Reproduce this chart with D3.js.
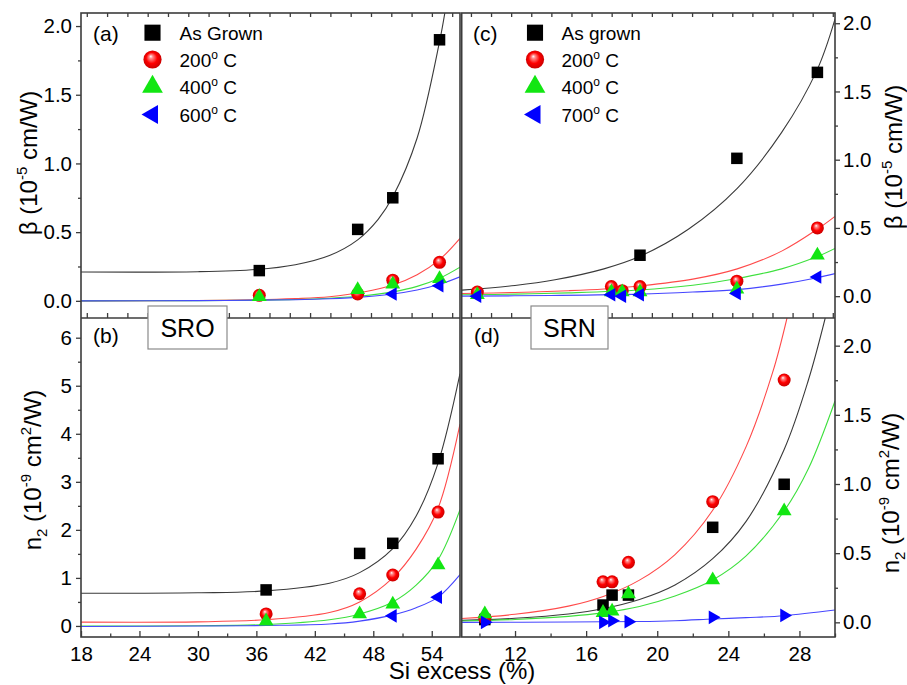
<!DOCTYPE html>
<html>
<head>
<meta charset="utf-8">
<script src="https://cdn.jsdelivr.net/npm/d3@7"></script>
<style>
body { margin: 0; background: #fff; }
text { font-family: "Liberation Sans", Arial, sans-serif; fill: #000; }
</style>
</head>
<body>
<svg id="chart" width="907" height="685"></svg>
<script>
// ---------------- data ----------------

// (a) SRO, beta (1e-5 cm/W)
var xA = [36.3, 46.4, 50.0, 54.8];
var aGrown = [0.22, 0.52, 0.75, 1.90];
var a200 = [0.04, 0.05, 0.15, 0.28];
var a400 = [0.03, 0.08, 0.12, 0.16];
var a600 = [null, null, 0.05, 0.11];

// (b) SRO, n2 (1e-9 cm2/W)
var xB = [37.0, 46.6, 50.0, 54.65];
var bGrown = [0.75, 1.51, 1.72, 3.48];
var b200 = [0.25, 0.67, 1.06, 2.37];
var b400 = [0.10, 0.25, 0.45, 1.27];
var b600 = [null, null, 0.21, 0.60];

// (c) SRN, beta
var xC = [9.88, 17.42, 18.03, 19.03, 24.48, 29.01];
var cGrown = [null, null, null, 0.30, 1.01, 1.64];
var c200 = [0.03, 0.07, 0.04, 0.07, 0.11, 0.50];
var c400 = [0.01, 0.03, 0.03, 0.03, 0.05, 0.30];
var c700 = [0.0, 0.01, 0.0, 0.01, 0.02, 0.14];

// (d) SRN, n2
var xD = [10.3, 16.95, 17.46, 18.38, 23.12, 27.14];
var dGrown = [0.02, 0.125, 0.197, 0.197, 0.687, 0.998];
var d200 = [0.03, 0.293, 0.293, 0.434, 0.872, 1.752];
var d400 = [0.06, 0.07, 0.08, 0.205, 0.306, 0.805];
var d700 = [0.0, 0.0, 0.012, 0.005, 0.036, 0.05];

// fitted curves, points: [x, y]
var fitA_grown = [[18,0.21],[30,0.212],[36,0.228],[40,0.263],[43.5,0.33],[46.4,0.444],[48.5,0.593],[50,0.757],[52.5,1.185],[54.8,1.886],[55.4,2.12]];
var fitA_200 = [[18,0],[30,0.002],[36,0.007],[40,0.016],[43.5,0.03],[47,0.064],[50,0.115],[52.5,0.19],[54.8,0.3],[56.9,0.455]];
var fitA_400 = [[18,0],[30,0.0014],[36,0.0044],[40,0.0095],[43.5,0.0186],[47,0.0365],[50,0.065],[52.5,0.105],[54.8,0.164],[56.9,0.245]];
var fitA_600 = [[18,0],[30,0.0013],[40,0.008],[43.5,0.0153],[47,0.029],[50,0.05],[52.5,0.079],[54.8,0.12],[56.9,0.175]];

var fitB_grown = [[18,0.68],[30,0.69],[37,0.73],[43.5,0.89],[46.6,1.11],[50,1.61],[52.4,2.29],[54.65,3.39],[56.9,5.25]];
var fitB_200 = [[18,0.08],[30,0.085],[37,0.13],[43.5,0.28],[46.6,0.5],[50,1.0],[52.4,1.6],[54.65,2.45],[56.9,4.2]];
var fitB_400 = [[18,0.0],[30,0.005],[37,0.03],[43.5,0.13],[46.6,0.25],[50,0.5],[52.4,0.85],[54.65,1.38],[56.9,2.42]];
var fitB_600 = [[18,-0.01],[30,0.0],[37,0.01],[43.5,0.04],[46.6,0.1],[50,0.23],[52.4,0.38],[54.65,0.6],[56.9,1.07]];

var fitC_grown = [[9,0.044],[12,0.078],[14.25,0.12],[17,0.2],[19,0.29],[21.75,0.49],[24.5,0.79],[27,1.2],[29,1.66],[30,2.03]];
var fitC_200 = [[9,0.02],[12,0.027],[15,0.04],[17,0.053],[19,0.075],[22,0.125],[24.5,0.2],[27,0.33],[29,0.49],[30,0.585]];
var fitC_400 = [[9,0.01],[12,0.015],[15,0.024],[19,0.045],[22,0.08],[24.5,0.13],[27,0.2],[29,0.29],[30,0.35]];
var fitC_700 = [[9,0.0],[14,0.005],[19,0.015],[22,0.03],[24.5,0.048],[27,0.088],[29,0.135],[30,0.165]];

var fitD_grown = [[9,0.014],[12,0.029],[15,0.06],[17,0.1],[19,0.165],[21,0.27],[23.12,0.46],[25,0.73],[27.14,1.25],[28.5,1.75],[29.45,2.2]];
var fitD_200 = [[9,0.028],[12,0.058],[15,0.117],[17,0.189],[19,0.305],[21,0.49],[23.12,0.81],[25,1.27],[26.5,1.81],[27.3,2.2]];
var fitD_400 = [[9,0.01],[12,0.021],[15,0.043],[17,0.07],[19,0.115],[21,0.19],[23.12,0.306],[25,0.48],[27.14,0.805],[28.5,1.11],[30,1.6]];
var fitD_700 = [[9,0.0],[15,0.002],[19,0.006],[21,0.012],[23.12,0.024],[25,0.034],[27.14,0.048],[30,0.089]];

// legends
var legendSRO = ["As Grown", "200", "400", "600"];
var legendSRN = ["As grown", "200", "400", "700"];

// ticks
var betaTicks = [0, 0.5, 1.0, 1.5, 2.0];
var betaMinor = [0.25, 0.75, 1.25, 1.75];
var n2SroTicks = [0, 1, 2, 3, 4, 5, 6];
var n2SroMinor = [0.5, 1.5, 2.5, 3.5, 4.5, 5.5];
var n2SrnTicks = [0, 0.5, 1.0, 1.5, 2.0];
var n2SrnMinor = [0.25, 0.75, 1.25, 1.75];
var sroXTicks = [18, 24, 30, 36, 42, 48, 54];
var sroXMinor = [21, 27, 33, 39, 45, 51];
var srnXTicks = [12, 16, 20, 24, 28];
var srnXMinor = [10, 14, 18, 22, 26, 30];

// ---------------- drawing ----------------
var svg = d3.select("#chart");
var frameColor = "#3c3c3c";
var lineColors = ["#3a3a3a", "#ff4a4a", "#3ee03e", "#4646ff"];
var green = "#12e612", blue = "#0000ff";

var defs = svg.append("defs");
var grad = defs.append("radialGradient").attr("id", "sphere")
  .attr("cx", "50%").attr("cy", "50%").attr("r", "55%")
  .attr("fx", "40%").attr("fy", "32%");
grad.append("stop").attr("offset", "0%").attr("stop-color", "#ffffff");
grad.append("stop").attr("offset", "18%").attr("stop-color", "#ff8c8c");
grad.append("stop").attr("offset", "55%").attr("stop-color", "#ff0000");
grad.append("stop").attr("offset", "100%").attr("stop-color", "#c00000");

var L = 81, M = 460, M2 = 461.7, R = 835, T = 13, MID = 318, B = 637;

var xSRO = d3.scaleLinear().domain([18, 56.9]).range([L, M]);
var xSRN = d3.scaleLinear().domain([9, 30]).range([M2, R]);
var yA = d3.scaleLinear().domain([-0.125, 2.095]).range([MID, T]);
var yB = d3.scaleLinear().domain([-0.23, 6.41]).range([B, MID]);
var yC = d3.scaleLinear().domain([-0.16, 2.075]).range([MID, T]);
var yD = d3.scaleLinear().domain([-0.106, 2.2]).range([B, MID]);
// unlabeled tick scales of the upper frames
var xTopSRO = d3.scaleLinear().domain([-0.285, 18.385]).range([L, M]);
var xTopSRN = d3.scaleLinear().domain([-0.46, 18.11]).range([M2, R]);

function drawMarker(g, kind, cx, cy, big) {
  var k = big ? 1.4 : 1;
  if (kind === "square") {
    var s = 11.5 * k;
    g.append("rect").attr("x", cx - s / 2).attr("y", cy - s / 2)
      .attr("width", s).attr("height", s).attr("fill", "#000");
  } else if (kind === "sphere") {
    g.append("circle").attr("cx", cx).attr("cy", cy).attr("r", 6.5 * k)
      .attr("fill", "url(#sphere)");
  } else {
    var rot = kind === "up" ? 0 : (kind === "left" ? -90 : 90);
    var size = kind === "up" ? 95 : 80;
    g.append("path")
      .attr("d", d3.symbol().type(d3.symbolTriangle).size(size * k * k)())
      .attr("transform", "translate(" + cx + "," + cy + ") rotate(" + rot + ")")
      .attr("fill", kind === "up" ? green : blue);
  }
}

function drawPanel(p) {
  var g = svg.append("g");
  var x0 = p.x.range()[0], x1 = p.x.range()[1];
  var y0 = p.y.range()[1], y1 = p.y.range()[0];
  defs.append("clipPath").attr("id", p.id)
    .append("rect").attr("x", x0).attr("y", y0).attr("width", x1 - x0).attr("height", y1 - y0);
  var plot = g.append("g").attr("clip-path", "url(#" + p.id + ")");

  var line = d3.line().x(function(d) { return p.x(d[0]); })
    .y(function(d) { return p.y(d[1]); })
    .curve(d3.curveCatmullRom.alpha(0.5));
  p.fits.forEach(function(f, i) {
    plot.append("path").attr("d", line(f)).attr("fill", "none")
      .attr("stroke", lineColors[i]).attr("stroke-width", 1.1);
  });

  var kinds = ["square", "sphere", "up", p.lastKind];
  p.series.forEach(function(s, i) {
    s.forEach(function(v, j) {
      if (v === null) return;
      drawMarker(plot, kinds[i], p.x(p.xs[j]), p.y(v), false);
    });
  });
  return g;
}

function styleAxis(a) {
  a.select(".domain").remove();
  a.selectAll("line").attr("stroke", frameColor).attr("stroke-width", 1.3);
  a.selectAll("text").style("font-size", "20.5px").attr("fill", "#000");
}

function yAxes(scale, major, minor, fmt, right) {
  var xpos = right ? R : L;
  var mk = right ? d3.axisRight : d3.axisLeft;
  var a = svg.append("g").attr("transform", "translate(" + xpos + ",0)")
    .call(mk(scale).tickValues(major).tickSize(5).tickPadding(right ? 3 : 4).tickFormat(fmt));
  styleAxis(a);
  var m = svg.append("g").attr("transform", "translate(" + xpos + ",0)")
    .call(mk(scale).tickValues(minor).tickSize(3).tickFormat(""));
  styleAxis(m);
}

function xAxes(scale, major, minor, topScale) {
  var a = svg.append("g").attr("transform", "translate(0," + B + ")")
    .call(d3.axisBottom(scale).tickValues(major).tickSize(-6).tickPadding(9).tickFormat(d3.format("d")));
  styleAxis(a);
  var m = svg.append("g").attr("transform", "translate(0," + B + ")")
    .call(d3.axisBottom(scale).tickValues(minor).tickSize(-3.5).tickFormat(""));
  styleAxis(m);
  // unlabeled ticks on the top frame and on the middle frame line
  var tv = d3.range(0, 19).filter(function(v) {
    var px = topScale(v); return px > topScale.range()[0] + 2 && px < topScale.range()[1] - 2;
  });
  [T, MID].forEach(function(yy) {
    var t = svg.append("g").attr("transform", "translate(0," + yy + ")")
      .call((yy === T ? d3.axisTop : d3.axisBottom)(topScale).tickValues(tv)
        .tickSize(yy === T ? -4 : -5).tickFormat(""));
    styleAxis(t);
  });
}

// panels
drawPanel({ id: "clipA", x: xSRO, y: yA, xs: xA, series: [aGrown, a200, a400, a600],
  fits: [fitA_grown, fitA_200, fitA_400, fitA_600], lastKind: "left" });
drawPanel({ id: "clipB", x: xSRO, y: yB, xs: xB, series: [bGrown, b200, b400, b600],
  fits: [fitB_grown, fitB_200, fitB_400, fitB_600], lastKind: "left" });
drawPanel({ id: "clipC", x: xSRN, y: yC, xs: xC, series: [cGrown, c200, c400, c700],
  fits: [fitC_grown, fitC_200, fitC_400, fitC_700], lastKind: "left" });
drawPanel({ id: "clipD", x: xSRN, y: yD, xs: xD, series: [dGrown, d200, d400, d700],
  fits: [fitD_grown, fitD_200, fitD_400, fitD_700], lastKind: "right" });

// axes
yAxes(yA, betaTicks, betaMinor, d3.format(".1f"), false);
yAxes(yB, n2SroTicks, n2SroMinor, d3.format("d"), false);
yAxes(yC, betaTicks, betaMinor, d3.format(".1f"), true);
yAxes(yD, n2SrnTicks, n2SrnMinor, d3.format(".1f"), true);
xAxes(xSRO, sroXTicks, sroXMinor, xTopSRO);
xAxes(xSRN, srnXTicks, srnXMinor, xTopSRN);

// frames
[[L, M], [M2, R]].forEach(function(r) {
  svg.append("rect").attr("x", r[0]).attr("y", T).attr("width", r[1] - r[0]).attr("height", B - T)
    .attr("fill", "none").attr("stroke", frameColor).attr("stroke-width", 1.6);
  svg.append("line").attr("x1", r[0]).attr("x2", r[1]).attr("y1", MID).attr("y2", MID)
    .attr("stroke", frameColor).attr("stroke-width", 1.6);
});

// panel letters
[["(a)", 93, 41], ["(b)", 93, 343], ["(c)", 473, 41], ["(d)", 474, 343]].forEach(function(d) {
  svg.append("text").attr("x", d[1]).attr("y", d[2])
    .style("font-size", "21px").text(d[0]);
});

// SRO / SRN boxes
[["SRO", 148, 227], ["SRN", 531, 608]].forEach(function(d) {
  svg.append("rect").attr("x", d[1]).attr("y", 306).attr("width", d[2] - d[1]).attr("height", 43)
    .attr("fill", "#fff").attr("stroke", "#8a8a8a").attr("stroke-width", 1.2);
  svg.append("text").attr("x", (d[1] + d[2]) / 2).attr("y", 337).attr("text-anchor", "middle")
    .style("font-size", "25px").text(d[0]);
});

// legends
function legend(labels, sx, tx) {
  var rows = [32.7, 59.5, 86.7, 114.5];
  var kinds = ["square", "sphere", "up", "left"];
  labels.forEach(function(lab, i) {
    drawMarker(svg, kinds[i], sx, rows[i], true);
    var t = svg.append("text").attr("x", tx).attr("y", rows[i] + 7).style("font-size", "19px");
    if (i === 0) { t.text(lab); return; }
    t.append("tspan").text(lab);
    t.append("tspan").attr("dy", -8).style("font-size", "12px").text("o");
    t.append("tspan").attr("dy", 8).text(" C");
  });
}
legend(legendSRO, 152.5, 179.5);
legend(legendSRN, 535, 561.5);

// axis titles
function title(x, y, parts, size) {
  var t = svg.append("text").attr("transform", "translate(" + x + "," + y + ") rotate(-90)")
    .attr("text-anchor", "middle").style("font-size", size + "px");
  var shift = 0;
  parts.forEach(function(p) {
    var dy = 0, fs = null;
    if (p[1] === "sup") { dy = -10 - shift; shift = -10; fs = Math.round(size * 0.62); }
    else if (p[1] === "sub") { dy = 6 - shift; shift = 6; fs = Math.round(size * 0.62); }
    else { dy = -shift; shift = 0; }
    var ts = t.append("tspan").attr("dy", dy).text(p[0]);
    if (fs) ts.style("font-size", fs + "px");
  });
}
var betaTitle = [["\u03b2 (10"], ["-5", "sup"], [" cm/W)"]];
var n2Title = [["n"], ["2", "sub"], [" (10"], ["-9", "sup"], [" cm"], ["2", "sup"], ["/W)"]];
title(37, 163, betaTitle, 24);
title(41, 470, n2Title, 24);
title(902, 157, betaTitle, 24);
title(899, 493, n2Title, 24);

svg.append("text").attr("x", 462).attr("y", 679).attr("text-anchor", "middle")
  .style("font-size", "24px").text("Si excess (%)");
</script>
</body>
</html>
